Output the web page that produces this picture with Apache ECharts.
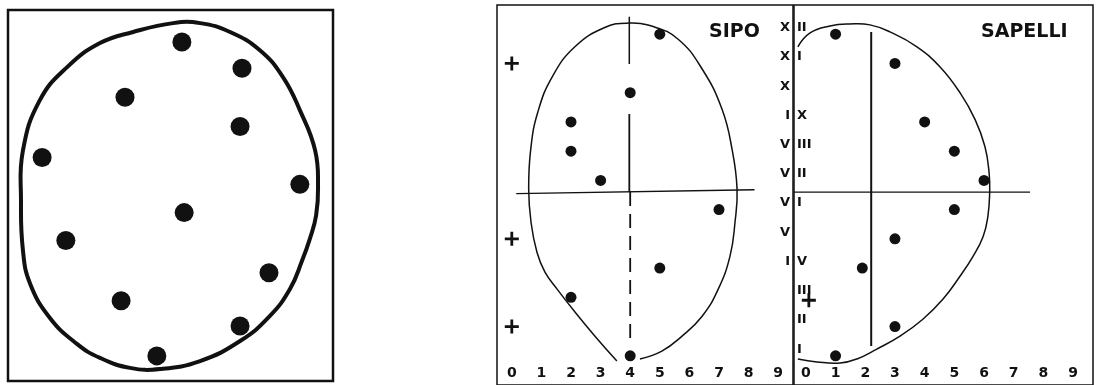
<!DOCTYPE html>
<html>
<head>
<meta charset="utf-8">
<script src="https://cdn.jsdelivr.net/npm/echarts@6/dist/echarts.min.js"></script>
<style>
  html, body { margin: 0; padding: 0; background: #fff; }
  #chart { width: 1096px; height: 385px; }
</style>
</head>
<body>
<div id="chart"></div>
<script>
/** 数据 */
// x 轴刻度
const xTicks = [0, 1, 2, 3, 4, 5, 6, 7, 8, 9];
// 月份行 (1 = I 在底部, 12 = XII 在顶部)
const monthRows = [1, 2, 3, 4, 5, 6, 7, 8, 9, 10, 11, 12];
// 月份标签被分隔线切开: 左半 / 右半
const monthLeft = ['', '', '', 'I', 'V', 'V', 'V', 'V', 'I', 'X', 'X', 'X'];
const monthRight = ['I', 'II', 'III', 'V', '', 'I', 'II', 'III', 'X', '', 'I', 'II'];

// 左图: 示意散点与包络线
const schemeDots = [
  [5.35, 11.88], [7.2, 10.96], [3.6, 9.94], [7.14, 8.92], [1.05, 7.83], [8.98, 6.89],
  [5.42, 5.9], [1.78, 4.92], [8.03, 3.79], [3.48, 2.81], [7.14, 1.93], [4.58, 0.88]
];
const schemeCurve = [
  [5.08, 12.54], [5.91, 12.54], [6.83, 12.23], [7.75, 11.59], [8.46, 10.65], [8.98, 9.49],
  [9.45, 8.08], [9.54, 6.78], [9.48, 5.80], [9.29, 4.99], [9.05, 4.22], [8.68, 3.23],
  [8.06, 2.28], [7.14, 1.40], [5.91, 0.70], [4.68, 0.42], [3.75, 0.46], [2.83, 0.81],
  [2.12, 1.30], [1.29, 2.21], [0.68, 3.41], [0.46, 4.57], [0.40, 6.32], [0.46, 8.08],
  [0.98, 9.84], [1.82, 11.0], [2.83, 11.84], [3.85, 12.23]
];

// SIPO
const sipoDots = [[5, 12], [4, 10], [2, 9], [2, 8], [3, 7], [7, 6], [5, 4], [2, 3], [4, 1]];
const sipoPlus = [[0, 11], [0, 5], [0, 2]];
const sipoCurve = [
  [3.55, 0.82], [2.81, 1.67], [2.14, 2.49], [1.53, 3.28], [1.12, 3.86], [0.85, 4.54],
  [0.65, 5.56], [0.57, 6.71], [0.64, 8.07], [0.88, 9.34], [1.38, 10.57], [2.15, 11.59],
  [3.16, 12.24], [3.94, 12.38], [4.75, 12.27], [5.62, 11.83], [6.43, 10.81], [7.10, 9.44],
  [7.44, 8.07], [7.61, 6.71], [7.54, 5.56], [7.37, 4.40], [6.97, 3.27], [6.43, 2.35],
  [5.75, 1.67], [5.07, 1.16], [4.33, 0.89]
];
const sipoHLine = [[0.15, 6.55], [8.2, 6.68]];
const sipoVSolid1 = [[3.97, 12.6], [3.97, 10.98]];
const sipoVSolid2 = [[3.97, 9.27], [3.97, 6.6]];
const sipoVDashed = [[4.0, 6.6], [4.0, 1.6]];

// SAPELLI
const sapelliDots = [[1, 12], [3, 11], [4, 9], [5, 8], [6, 7], [5, 6], [3, 5], [1.9, 4], [3, 2], [1, 1]];
const sapelliPlus = [[0.1, 2.9]];
const sapelliCurve = [
  [-0.27, 11.57], [0.13, 12.04], [0.81, 12.28], [1.48, 12.35], [2.16, 12.32], [2.83, 12.08],
  [3.74, 11.57], [4.52, 10.88], [5.19, 10.0], [5.70, 9.08], [6.03, 8.16], [6.17, 7.27],
  [6.19, 6.59], [6.13, 5.77], [5.97, 5.08], [5.63, 4.40], [5.19, 3.72], [4.62, 2.94],
  [3.94, 2.25], [3.17, 1.67], [2.39, 1.23], [1.72, 0.89], [1.15, 0.75], [0.37, 0.79], [-0.27, 0.89]
];
const sapelliHLine = [[-0.4, 6.6], [7.55, 6.6]];
const sapelliVLine = [[2.2, 12.08], [2.2, 1.33]];

/** 样式 */
const INK = '#111';
const FONT = 'DejaVu Sans';
const PLUS = 'path://M4,0H6V4H10V6H6V10H4V6H0V4H4Z';

let myChart = echarts.init(document.getElementById('chart'), null, {renderer: 'canvas'});

function lineSeries(data, xi, width, type) {
  return {
    type: 'line', xAxisIndex: xi, yAxisIndex: xi, data: data,
    showSymbol: false, symbol: 'none', silent: true,
    lineStyle: {color: INK, width: width, type: type || 'solid'}
  };
}
// 平滑包络线: 用 custom 系列, 点经坐标轴换算后画成一条贝塞尔折线
function curveSeries(data, xi, width, closed) {
  return {
    type: 'custom', xAxisIndex: xi, yAxisIndex: xi, data: data, silent: true,
    renderItem: (params, api) => {
      if (params.dataIndex !== 0) return null;
      const pts = data.map(p => api.coord(p));
      return {
        type: closed ? 'polygon' : 'polyline',
        shape: {points: pts, smooth: 0.45},
        style: {stroke: INK, lineWidth: width, fill: 'none'}
      };
    }
  };
}
function dotSeries(data, xi, size, symbol) {
  return {
    type: 'scatter', xAxisIndex: xi, yAxisIndex: xi, data: data,
    symbol: symbol || 'circle', symbolSize: size, silent: true,
    itemStyle: {color: INK, opacity: 1}
  };
}

const xLabel = {
  inside: true, margin: 5, customValues: xTicks,
  fontSize: 14, fontWeight: 'bold', color: INK, fontFamily: FONT
};
function monthLabel(parts) {
  return {
    inside: true, margin: 3, customValues: monthRows,
    fontSize: 13, fontWeight: 'bold', color: INK, fontFamily: FONT,
    verticalAlign: 'bottom',
    formatter: (v) => parts[v - 1] || ''
  };
}
const noAxis = {axisLine: {show: false}, axisTick: {show: false}, splitLine: {show: false}};
const titleStyle = {fontSize: 19, fontWeight: 'bold', color: INK, fontFamily: FONT};

let option = {
  animation: false,
  backgroundColor: '#fff',
  title: [
    {text: 'SIPO', left: 704, top: 18, textStyle: titleStyle},
    {text: 'SAPELLI', left: 976, top: 18, textStyle: titleStyle}
  ],
  grid: [
    {left: 8, top: 10, width: 325, height: 371, show: true, borderColor: INK, borderWidth: 2.5},
    {left: 497, top: 5, width: 296, height: 381, show: true, borderColor: INK, borderWidth: 1.5},
    {left: 794, top: 5, width: 299, height: 381, show: true, borderColor: INK, borderWidth: 1.5}
  ],
  xAxis: [
    Object.assign({type: 'value', gridIndex: 0, min: 0, max: 10, axisLabel: {show: false}}, noAxis),
    Object.assign({type: 'value', gridIndex: 1, min: -0.5, max: 9.5, axisLabel: xLabel}, noAxis),
    Object.assign({type: 'value', gridIndex: 2, min: -0.4, max: 9.67, axisLabel: xLabel}, noAxis)
  ],
  yAxis: [
    Object.assign({type: 'value', gridIndex: 0, min: 0, max: 13, axisLabel: {show: false}}, noAxis),
    Object.assign({type: 'value', gridIndex: 1, min: 0, max: 13, position: 'right', axisLabel: monthLabel(monthLeft)}, noAxis),
    Object.assign({type: 'value', gridIndex: 2, min: 0, max: 13, position: 'left', axisLabel: monthLabel(monthRight)}, noAxis)
  ],
  series: [
    // 左图
    curveSeries(schemeCurve, 0, 4, true),
    dotSeries(schemeDots, 0, 19),
    // SIPO
    curveSeries(sipoCurve, 1, 1.5, false),
    lineSeries(sipoHLine, 1, 1.3),
    lineSeries(sipoVSolid1, 1, 1.5),
    lineSeries(sipoVSolid2, 1, 1.8),
    lineSeries(sipoVDashed, 1, 1.8, [14, 8]),
    dotSeries(sipoDots, 1, 11),
    dotSeries(sipoPlus, 1, 14, PLUS),
    // SAPELLI
    curveSeries(sapelliCurve, 2, 1.5, false),
    lineSeries(sapelliHLine, 2, 1.3),
    lineSeries(sapelliVLine, 2, 2),
    dotSeries(sapelliDots, 2, 11),
    dotSeries(sapelliPlus, 2, 14, PLUS)
  ]
};
myChart.setOption(option);
</script>
</body>
</html>
